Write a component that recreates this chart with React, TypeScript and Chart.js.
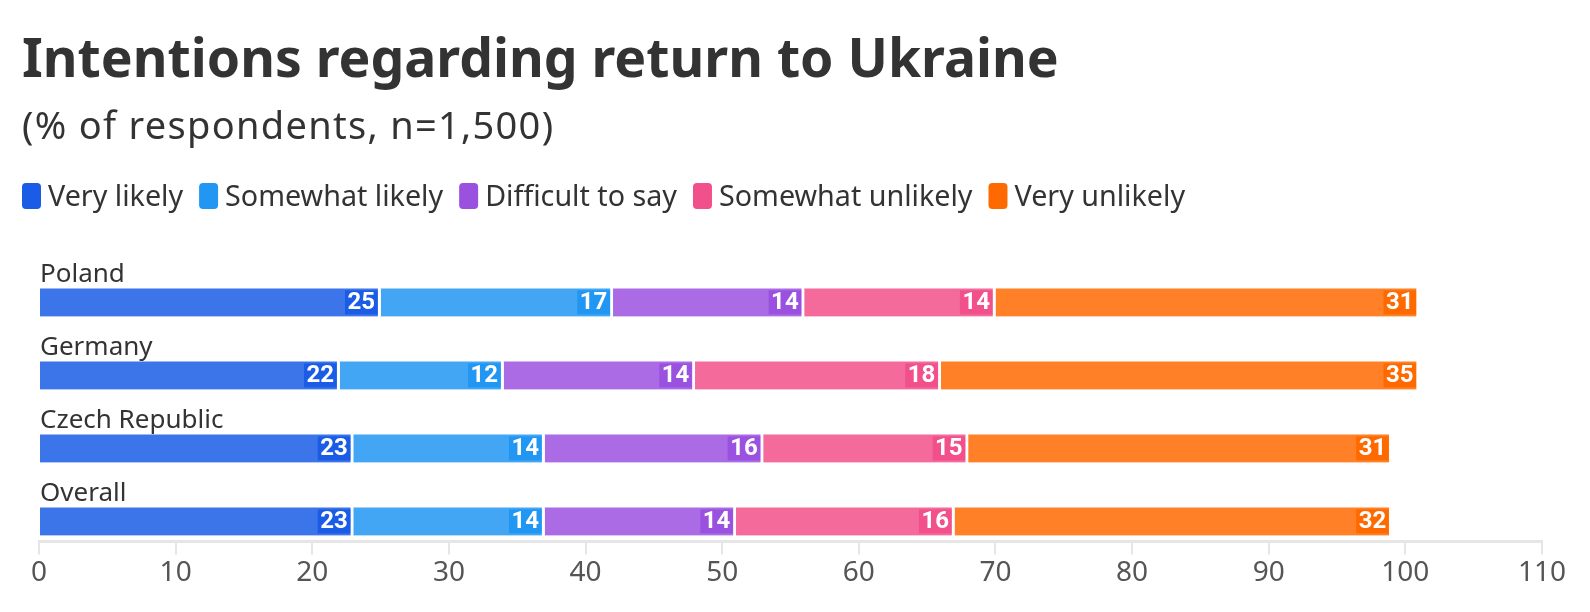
import React, { useEffect, useRef } from "react";
import { Chart, registerables } from "chart.js";

Chart.register(...registerables);

const TITLE = "Intentions regarding return to Ukraine";
const SUBTITLE = "(% of respondents, n=1,500)";
const categories = ["Poland", "Germany", "Czech Republic", "Overall"];
const seriesNames = ["Very likely", "Somewhat likely", "Difficult to say", "Somewhat unlikely", "Very unlikely"];
const veryLikely = [25, 22, 23, 23];
const somewhatLikely = [17, 12, 14, 14];
const difficult = [14, 14, 16, 14];
const somewhatUnlikely = [14, 18, 15, 16];
const veryUnlikely = [31, 35, 31, 32];
const seriesColors = ["#1a5ce6", "#2196f3", "#9b51e0", "#f2508a", "#ff6a00"];
const xTicks = [0, 10, 20, 30, 40, 50, 60, 70, 80, 90, 100, 110];

const FONT = "'Noto Sans', sans-serif";
const LABEL_FONT = "Roboto, 'Noto Sans', sans-serif";

function withAlpha(hex: string, a: number) {
  const r = parseInt(hex.slice(1, 3), 16);
  const g = parseInt(hex.slice(3, 5), 16);
  const b = parseInt(hex.slice(5, 7), 16);
  return `rgba(${r},${g},${b},${a})`;
}

const BAR_STEP = 73;
const Y_MAX = 3 + 20 / 73;

function roundRect(ctx: CanvasRenderingContext2D, x: number, y: number, w: number, h: number, r: number) {
  ctx.beginPath();
  ctx.moveTo(x + r, y);
  ctx.lineTo(x + w - r, y);
  ctx.quadraticCurveTo(x + w, y, x + w, y + r);
  ctx.lineTo(x + w, y + h - r);
  ctx.quadraticCurveTo(x + w, y + h, x + w - r, y + h);
  ctx.lineTo(x + r, y + h);
  ctx.quadraticCurveTo(x, y + h, x, y + h - r);
  ctx.lineTo(x, y + r);
  ctx.quadraticCurveTo(x, y, x + r, y);
  ctx.closePath();
}

const layoutPlugin = {
  id: "indexLayout",
  afterLayout(chart: any) {
    const s = chart.scales.y;
    s.max = Y_MAX;
    s.min = Y_MAX - (s.bottom - s.top) / BAR_STEP;
    s.configure();
  },
};

const headerPlugin = {
  id: "header",
  afterDraw(chart: any) {
    const ctx = chart.ctx;
    ctx.save();
    ctx.textAlign = "left";
    ctx.textBaseline = "alphabetic";
    ctx.fillStyle = "#333333";
    ctx.font = `bold 53.5px ${FONT}`;
    ctx.fillText(TITLE, 22, 77);
    ctx.font = `38px ${FONT}`;
    (ctx as any).letterSpacing = "1.3px";
    ctx.fillText(SUBTITLE, 22, 139);
    (ctx as any).letterSpacing = "0px";
    ctx.font = `28.7px ${FONT}`;
    let x = 22;
    chart.data.datasets.forEach((ds: any, i: number) => {
      ctx.fillStyle = seriesColors[i];
      roundRect(ctx, x, 183, 19, 26, 4);
      ctx.fill();
      x += 26;
      ctx.fillStyle = "#333333";
      ctx.fillText(ds.label, x, 206);
      x += ctx.measureText(ds.label).width + 16;
    });
    ctx.restore();
  },
};

const labelsPlugin = {
  id: "customLabels",
  afterDatasetsDraw(chart: any) {
    const ctx = chart.ctx;
    ctx.save();
    const meta0 = chart.getDatasetMeta(0);
    ctx.font = `26px ${FONT}`;
    ctx.fillStyle = "#333333";
    ctx.textAlign = "left";
    ctx.textBaseline = "alphabetic";
    meta0.data.forEach((el: any, i: number) => {
      ctx.fillText(categories[i], chart.chartArea.left + 1, el.y - el.height / 2 - 6.5);
    });
    ctx.font = `bold 24px ${LABEL_FONT}`;
    ctx.textBaseline = "middle";
    ctx.textAlign = "right";
    chart.data.datasets.forEach((ds: any, di: number) => {
      const meta = chart.getDatasetMeta(di);
      meta.data.forEach((el: any, i: number) => {
        const txt = String(ds.data[i].x);
        const w = ctx.measureText(txt).width;
        const right = el.x - 3;
        const bh = 24;
        ctx.fillStyle = seriesColors[di];
        ctx.fillRect(right - w - 5, el.y - bh / 2, w + 5, bh);
        ctx.fillStyle = "#ffffff";
        ctx.fillText(txt, right - 2.5, el.y + 1);
      });
    });
    ctx.restore();
  },
};

export default function App() {
  const ref = useRef<HTMLCanvasElement | null>(null);
  useEffect(() => {
    document.body.style.margin = "0";
    const seriesValues = [veryLikely, somewhatLikely, difficult, somewhatUnlikely, veryUnlikely];
    const chart = new Chart(ref.current as HTMLCanvasElement, {
      type: "bar",
      data: {
        datasets: seriesValues.map((vals, si) => ({
          label: seriesNames[si],
          data: vals.map((v, i) => ({ x: v, y: i })),
          backgroundColor: withAlpha(seriesColors[si], 0.85),
          borderColor: "#ffffff",
          borderWidth: { left: 0, right: 3, top: 0, bottom: 0 },
          borderSkipped: false,
          barThickness: 28,
        })),
      },
      options: {
        indexAxis: "y",
        animation: false,
        responsive: false,
        maintainAspectRatio: false,
        layout: { padding: { left: 22, right: 48, top: 234, bottom: 20 } },
        plugins: {
          tooltip: { enabled: false },
          legend: { display: false },
          title: { display: false },
        },
        scales: {
          x: {
            type: "linear",
            stacked: true,
            min: 0,
            max: 110,
            afterBuildTicks: (s: any) => {
              s.ticks = xTicks.map((v) => ({ value: v }));
            },
            border: { display: true, color: "#e6e6e6", width: 3 },
            grid: { display: true, drawOnChartArea: false, drawTicks: true, tickLength: 13, color: "#e6e6e6", lineWidth: 2 },
            ticks: { color: "#555555", font: { family: FONT, size: 28 }, padding: 2, maxRotation: 0 },
          },
          y: {
            type: "linear",
            stacked: true,
            reverse: true,
            offset: false,
            bounds: "data",
            afterFit: (s: any) => {
              s.width = 17;
            },
            border: { display: false },
            grid: { display: false },
            ticks: { display: false },
          },
        },
      },
      plugins: [layoutPlugin, labelsPlugin, headerPlugin],
    } as any);
    return () => chart.destroy();
  }, []);
  return (
    <div style={{ width: 1590, height: 612 }}>
      <canvas ref={ref} width={1590} height={612} style={{ display: "block", width: 1590, height: 612 }} />
    </div>
  );
}
